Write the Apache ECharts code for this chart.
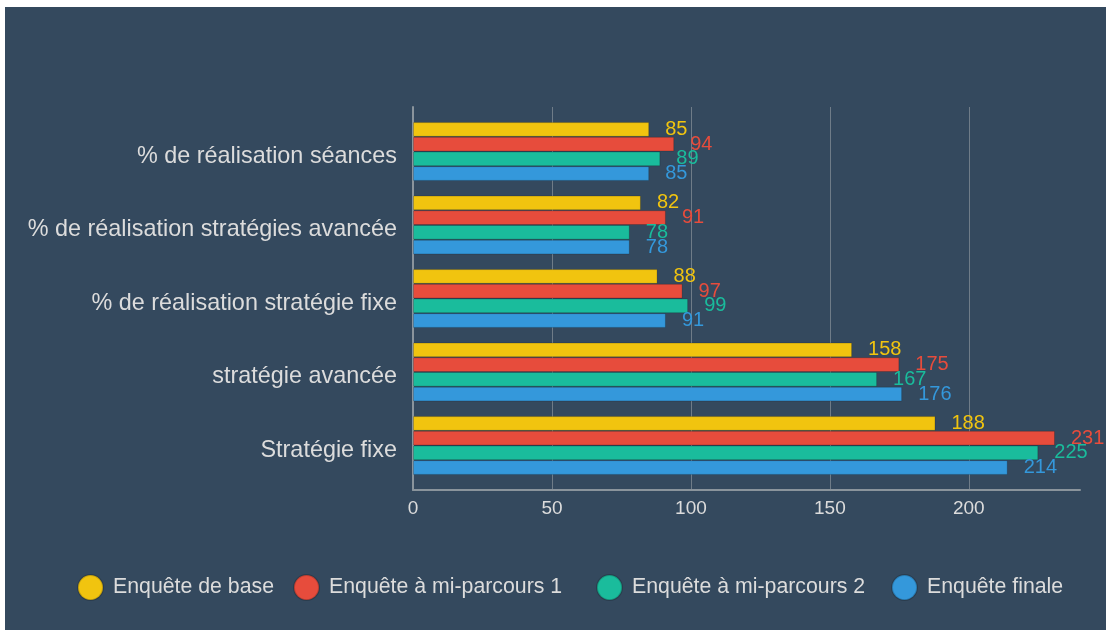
<!DOCTYPE html>
<html>
<head>
<meta charset="utf-8">
<script src="https://cdn.jsdelivr.net/npm/echarts@6/dist/echarts.min.js"></script>
<style>
html,body{margin:0;padding:0;background:#ffffff;}
#chart{position:absolute;left:5px;top:7px;width:1101px;height:623px;}
</style>
</head>
<body>
<div id="chart"></div>
<script>
const categories = [
  "% de réalisation séances",
  "% de réalisation stratégies avancée",
  "% de réalisation stratégie fixe",
  "stratégie avancée",
  "Stratégie fixe"
];
const seriesNames = ["Enquête de base", "Enquête à mi-parcours 1", "Enquête à mi-parcours 2", "Enquête finale"];
const baseValues = [85, 82, 88, 158, 188];
const mid1Values = [94, 91, 97, 175, 231];
const mid2Values = [89, 78, 99, 167, 225];
const finalValues = [85, 78, 91, 176, 214];
const colors = ["#f1c40f", "#e74c3c", "#1abc9c", "#3498db"];

const allValues = [baseValues, mid1Values, mid2Values, finalValues];
const legendLefts = [72, 288, 591, 886];
const chart = echarts.init(document.getElementById('chart'));
const textColor = '#dcdcdc';
const axisGray = '#8a949c';
chart.setOption({
  backgroundColor: '#34495e',
  color: colors,
  animation: false,
  textStyle: { fontFamily: 'Liberation Sans, Arial, sans-serif' },
  legend: seriesNames.map(function (name, i) {
    return {
      top: 567,
      left: legendLefts[i],
      padding: 0,
      icon: 'circle',
      itemWidth: 25,
      itemHeight: 25,
      textStyle: { color: textColor, fontSize: 21.3, padding: [0, 0, 0, 5] },
      data: [name]
    };
  }),
  grid: [
    { left: 408, right: 26, top: 100, bottom: 140, containLabel: false },
    { left: 408, right: 26, top: 107.75, bottom: 147.75, containLabel: false }
  ],
  xAxis: [
    {
      gridIndex: 0,
      type: 'value',
      min: 0, max: 240, interval: 50,
      axisLine: { show: true, lineStyle: { color: axisGray, width: 2 } },
      axisTick: { show: false },
      axisLabel: { color: textColor, fontSize: 19, margin: 9,
        formatter: function (v) { return v % 50 === 0 ? String(v) : ''; } },
      splitLine: { show: true, showMaxLine: false, lineStyle: { color: '#6f7c88', width: 1 } }
    },
    {
      gridIndex: 1,
      type: 'value',
      min: 0, max: 240, interval: 50,
      show: false
    }
  ],
  yAxis: [
    {
      gridIndex: 0,
      type: 'category',
      data: categories,
      axisLine: { show: true, lineStyle: { color: axisGray, width: 2 } },
      axisTick: { show: false },
      axisLabel: { show: false },
      splitLine: { show: false }
    },
    {
      gridIndex: 1,
      type: 'category',
      inverse: true,
      data: categories,
      axisLine: { show: false },
      axisTick: { show: false },
      axisLabel: {
        margin: 16,
        formatter: function (v) { return '{c|' + v + '}'; },
        rich: { c: { color: textColor, fontSize: 23.4, padding: [10, 0, 0, 0],
          fontFamily: 'Liberation Sans, Arial, sans-serif' } }
      },
      splitLine: { show: false }
    }
  ],
  series: seriesNames.map(function (name, i) {
    return {
      name: name,
      type: 'bar',
      xAxisIndex: 1,
      yAxisIndex: 1,
      data: allValues[i],
      barGap: '0%',
      barCategoryGap: '20%',
      itemStyle: { color: colors[i], borderColor: 'rgba(0,0,0,0.18)', borderWidth: 1 },
      label: { show: true, position: 'right', distance: 16, color: colors[i], fontSize: 20 }
    };
  })
});
</script>
</body>
</html>
